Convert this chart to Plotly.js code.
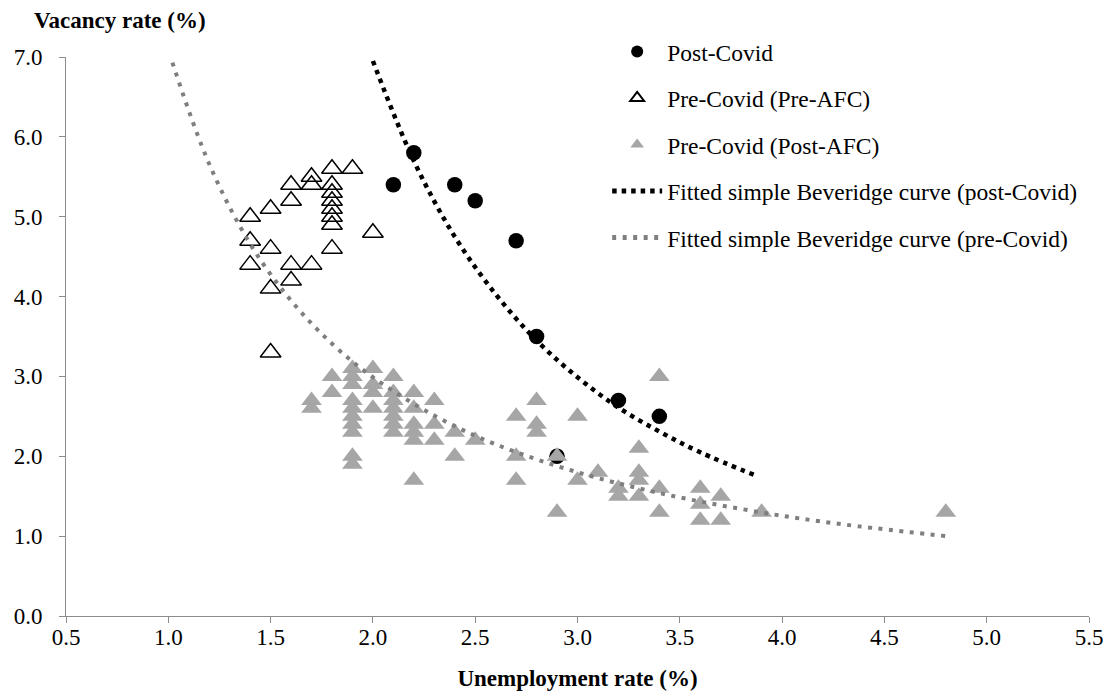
<!DOCTYPE html>
<html>
<head>
<meta charset="utf-8">
<script src="https://cdn.plot.ly/plotly-3.0.1.min.js"></script>
<style>html,body{margin:0;padding:0;background:#fff;}#chart{width:1104px;height:696px;}</style>
</head>
<body>
<div id="chart"></div>
<script>
// Post-Covid observations
const postCovidU = [2.1, 2.2, 2.4, 2.5, 2.7, 2.8, 2.9, 3.2, 3.4];
const postCovidV = [5.4, 5.8, 5.4, 5.2, 4.7, 3.5, 2.0, 2.7, 2.5];

// Pre-Covid (Pre-AFC) observations
const preAfcU = [1.4, 1.4, 1.4, 1.5, 1.5, 1.5, 1.5, 1.6, 1.6, 1.6, 1.6, 1.7, 1.7, 1.7,
                 1.8, 1.8, 1.8, 1.8, 1.8, 1.8, 1.8, 1.8, 1.9, 2.0];
const preAfcV = [5.0, 4.7, 4.4, 5.1, 4.6, 4.1, 3.3, 5.4, 5.2, 4.4, 4.2, 5.5, 5.4, 4.4,
                 5.6, 5.4, 5.3, 5.2, 5.1, 5.0, 4.9, 4.6, 5.6, 4.8];

// Pre-Covid (Post-AFC) observations
const postAfcU = [1.7, 1.7, 1.8, 1.8,
                  1.9, 1.9, 1.9, 1.9, 1.9, 1.9, 1.9, 1.9, 1.9, 1.9,
                  2.0, 2.0, 2.0, 2.0,
                  2.1, 2.1, 2.1, 2.1, 2.1, 2.1, 2.1,
                  2.2, 2.2, 2.2, 2.2, 2.2, 2.2,
                  2.3, 2.3, 2.3, 2.4, 2.4, 2.5,
                  2.7, 2.7, 2.7, 2.8, 2.8, 2.8, 2.9, 2.9,
                  3.0, 3.0, 3.1, 3.2, 3.2, 3.3, 3.3, 3.3, 3.3,
                  3.4, 3.4, 3.4, 3.6, 3.6, 3.6, 3.7, 3.7, 3.9, 4.8];
const postAfcV = [2.7, 2.6, 3.0, 2.8,
                  3.1, 3.0, 2.9, 2.7, 2.6, 2.5, 2.4, 2.3, 2.0, 1.9,
                  3.1, 2.9, 2.8, 2.6,
                  3.0, 2.8, 2.7, 2.6, 2.5, 2.4, 2.3,
                  2.8, 2.6, 2.4, 2.3, 2.2, 1.7,
                  2.7, 2.4, 2.2, 2.3, 2.0, 2.2,
                  2.5, 2.0, 1.7, 2.7, 2.4, 2.3, 2.0, 1.3,
                  2.5, 1.7, 1.8, 1.6, 1.5, 2.1, 1.8, 1.7, 1.5,
                  3.0, 1.6, 1.3, 1.6, 1.4, 1.2, 1.5, 1.2, 1.3, 1.3];

// Fitted curves, values
const fitPostU = [2.0, 2.2, 2.4, 2.6, 2.8, 3.0, 3.2, 3.4, 3.6, 3.88];
const fitPostV = [6.95, 5.70, 4.75, 4.03, 3.45, 2.99, 2.61, 2.31, 2.05, 1.75];
const fitPreU = [1.02, 1.2, 1.4, 1.6, 1.8, 2.0, 2.3, 2.6, 3.0, 3.4, 3.8, 4.2, 4.8];
const fitPreV = [6.93, 5.66, 4.66, 3.95, 3.41, 2.99, 2.51, 2.15, 1.80, 1.54, 1.34, 1.18, 1.00];

const xTicks = [0.5, 1.0, 1.5, 2.0, 2.5, 3.0, 3.5, 4.0, 4.5, 5.0, 5.5];
const yTicks = [0, 1, 2, 3, 4, 5, 6, 7];

const FONT = 'Liberation Serif';

const traces = [
  {x: postCovidU, y: postCovidV, type: 'scatter', mode: 'markers', name: 'Post-Covid',
   legendgroup: 'a', marker: {symbol: 'circle', size: 15.5, color: '#000000'}},
  {x: preAfcU, y: preAfcV, type: 'scatter', mode: 'markers', name: 'Pre-Covid (Pre-AFC)',
   legendgroup: 'b', marker: {symbol: 'triangle-up-open', size: 18, color: '#000000', line: {width: 1.5}}},
  {x: postAfcU, y: postAfcV, type: 'scatter', mode: 'markers', name: 'Pre-Covid (Post-AFC)',
   legendgroup: 'c', marker: {symbol: 'triangle-up', size: 18, color: '#a6a6a6'}},
  {x: fitPostU, y: fitPostV, type: 'scatter', mode: 'lines', name: 'Fitted simple Beveridge curve (post-Covid)',
   legendgroup: 'd', line: {color: '#000000', width: 4.5, dash: '4.5px,5px', shape: 'spline'}},
  {x: fitPreU, y: fitPreV, type: 'scatter', mode: 'lines', name: 'Fitted simple Beveridge curve (pre-Covid)',
   legendgroup: 'e', line: {color: '#7f7f7f', width: 4, dash: '4px,6.5px', shape: 'spline'}}
];

const axisCommon = {
  showgrid: false, zeroline: false, showline: true, linecolor: '#8c8c8c', linewidth: 1,
  ticks: 'outside', ticklen: 6, tickcolor: '#8c8c8c', tickwidth: 1,
  tickfont: {family: FONT, size: 23, color: '#000000'}, tickformat: '.1f'
};

const layout = {
  width: 1104, height: 696,
  margin: {l: 66, r: 15, t: 57, b: 80},
  paper_bgcolor: '#ffffff', plot_bgcolor: '#ffffff',
  font: {family: FONT, color: '#000000'},
  showlegend: true,
  legend: {x: 0.529, xanchor: 'left', y: 1.049, yanchor: 'top', bgcolor: 'rgba(0,0,0,0)',
           font: {family: FONT, size: 23.5, color: '#000000'}, itemwidth: 50,
           traceorder: 'grouped', tracegroupgap: 13, itemsizing: 'constant'},
  xaxis: Object.assign({}, axisCommon, {
    range: [0.5, 5.5], tickvals: xTicks, ticklabelstandoff: -6,
    title: {text: '<b>Unemployment rate (%)</b>', font: {family: FONT, size: 23, color: '#000000'}, standoff: 21}
  }),
  yaxis: Object.assign({}, axisCommon, {
    range: [0, 7], tickvals: yTicks, ticklabelstandoff: 12
  }),
  annotations: [
    {text: '<b>Vacancy rate (%)</b>', xref: 'paper', yref: 'paper', x: -0.033, y: 1.065,
     xanchor: 'left', yanchor: 'middle', showarrow: false,
     font: {family: FONT, size: 23, color: '#000000'}}
  ]
};

Plotly.newPlot('chart', traces, layout, {displayModeBar: false, staticPlot: true});
</script>
</body>
</html>
